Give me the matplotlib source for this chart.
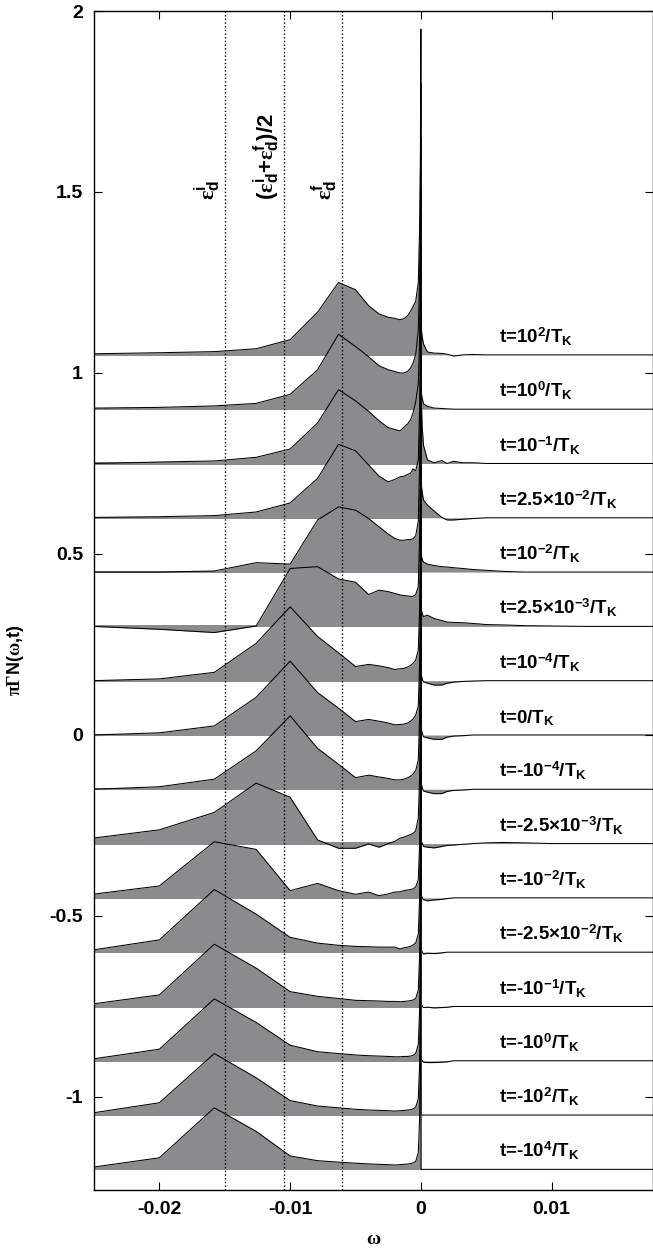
import matplotlib
matplotlib.use("Agg")
import matplotlib.pyplot as plt
import numpy as np

plt.rcParams["font.family"] = ["Liberation Sans", "DejaVu Sans"]
plt.rcParams["font.weight"] = "bold"
plt.rcParams["axes.unicode_minus"] = False
plt.rcParams["mathtext.fontset"] = "custom"
plt.rcParams["mathtext.rm"] = "Liberation Serif"
plt.rcParams["mathtext.it"] = "Liberation Serif:italic"
plt.rcParams["mathtext.bf"] = "Liberation Sans:bold"
plt.rcParams["mathtext.sf"] = "Liberation Sans"

# frequency grid (log spaced towards the Fermi level)
omega = [-0.0251, -0.0200, -0.0158, -0.0126, -0.0100, -0.0079, -0.0063, -0.0050,
         -0.0040, -0.0032, -0.0025, -0.0020, -0.0016, -0.0013, -0.0010, -0.0008,
         -0.0006, -0.0004, -0.0002, -0.0001,
         -0.00004, 0.0, 0.00001,
         0.0001, 0.0002, 0.0005, 0.0010, 0.0016, 0.0020, 0.0025, 0.0032,
         0.0040, 0.0050, 0.0063, 0.0079, 0.0100, 0.0126, 0.0158, 0.0178]

# spectral functions relative to their offset:
# 20 points below the peak, 3 points around omega=0, 16 points above
n_p1e2 = [0.003, 0.006, 0.009, 0.017, 0.042, 0.118, 0.200, 0.180, 0.136, 0.113,
          0.104, 0.101, 0.097, 0.100, 0.109, 0.120, 0.134, 0.148, 0.200, 0.350,
          0.550, 0.900, 0.080,
          0.050, 0.030, 0.008, 0.005, 0.004, 0.002, -0.003, 0.000,
          0.001, 0, 0, 0, 0, 0, 0, 0]
n_p1e0 = [0.003, 0.005, 0.009, 0.016, 0.041, 0.109, 0.207, 0.173, 0.145, 0.120,
          0.109, 0.104, 0.100, 0.100, 0.105, 0.113, 0.127, 0.150, 0.220, 0.360,
          0.550, 0.900, 0.050,
          0.030, 0.015, 0.008, 0.003, 0.002, 0.001, 0, 0,
          0, 0, 0, 0, 0, 0, 0, 0]
n_p1em1 = [0.000, 0.004, 0.007, 0.017, 0.040, 0.112, 0.204, 0.173, 0.144, 0.118,
           0.099, 0.094, 0.090, 0.100, 0.110, 0.120, 0.140, 0.170, 0.220, 0.350,
           0.550, 0.900, 0.200,
           0.100, 0.050, 0.010, 0.002, 0.008, 0.000, 0.006, 0.002,
           0.002, 0, 0, 0, 0, 0, 0, 0]
n_p25em2 = [0.001, 0.003, 0.006, 0.016, 0.041, 0.109, 0.203, 0.185, 0.146, 0.115,
            0.099, 0.106, 0.113, 0.115, 0.120, 0.123, 0.135, 0.130, 0.160, 0.300,
            0.500, 0.900, 0.100,
            0.070, 0.049, 0.035, 0.019, 0.001, -0.006, -0.006, -0.004,
            -0.002, 0, 0, 0, 0, 0, 0, 0]
n_p1em2 = [0.000, 0.000, 0.003, 0.026, 0.022, 0.144, 0.180, 0.171, 0.148, 0.125,
           0.105, 0.093, 0.088, 0.088, 0.090, 0.090, 0.092, 0.100, 0.140, 0.300,
           0.500, 0.900, 0.050,
           0.035, 0.028, 0.022, 0.018, 0.015, 0.014, 0.012, 0.010,
           0.007, 0.005, 0.002, 0, 0, 0, 0, 0]
n_p25em3 = [0.000, -0.008, -0.017, 0.001, 0.160, 0.165, 0.131, 0.122, 0.088, 0.100,
            0.096, 0.091, 0.087, 0.085, 0.084, 0.083, 0.083, 0.088, 0.110, 0.250,
            0.450, 0.900, 0.050,
            0.035, 0.027, 0.031, 0.022, 0.016, 0.012, 0.011, 0.010,
            0.008, 0.005, 0.004, 0.002, 0.001, 0, 0, 0]
n_p1em4 = [0.000, 0.005, 0.023, 0.103, 0.204, 0.122, 0.077, 0.039, 0.045, 0.041,
           0.036, 0.031, 0.033, 0.034, 0.038, 0.042, 0.048, 0.057, 0.085, 0.200,
           0.400, 0.900, 0.020,
           0.005, -0.003, -0.007, -0.012, -0.012, -0.007, -0.004, -0.002,
           -0.001, 0, 0, 0, 0, 0, 0, 0]
n_zero = [0.000, 0.006, 0.025, 0.104, 0.204, 0.117, 0.074, 0.037, 0.043, 0.038,
          0.033, 0.028, 0.029, 0.030, 0.033, 0.038, 0.044, 0.055, 0.080, 0.200,
          0.400, 0.900, 0.020,
          0.005, -0.005, -0.008, -0.012, -0.012, -0.006, -0.003, -0.002,
          0, 0, 0, 0, 0, 0, 0, 0]
n_m1em4 = [0.000, 0.007, 0.028, 0.106, 0.203, 0.113, 0.069, 0.032, 0.039, 0.034,
           0.030, 0.026, 0.026, 0.028, 0.032, 0.036, 0.042, 0.052, 0.080, 0.200,
           0.400, 0.900, 0.020,
           0.005, -0.005, -0.008, -0.012, -0.012, -0.006, -0.003, -0.002,
           0, 0, 0, 0, 0, 0, 0, 0]
n_m25em3 = [0.015, 0.038, 0.086, 0.167, 0.128, 0.010, -0.013, -0.013, -0.001, -0.010,
            0.000, 0.006, 0.015, 0.018, 0.022, 0.025, 0.028, 0.035, 0.070, 0.180,
            0.380, 0.900, 0.010,
            0.000, -0.008, -0.010, -0.012, -0.008, -0.005, -0.004, -0.002,
            0.000, 0.002, 0.003, 0.002, 0, 0, 0, 0]
n_m1em2 = [0.010, 0.033, 0.155, 0.134, 0.020, 0.040, 0.020, 0.010, 0.016, 0.006,
           0.011, 0.016, 0.017, 0.020, 0.022, 0.023, 0.025, 0.030, 0.050, 0.150,
           0.350, 0.900, 0.010,
           0.000, -0.005, -0.008, -0.006, -0.004, -0.002, 0, 0,
           0, 0, 0, 0, 0, 0, 0, 0]
n_m25em2 = [0.006, 0.034, 0.173, 0.105, 0.041, 0.025, 0.019, 0.016, 0.015, 0.014,
            0.014, 0.014, 0.009, 0.012, 0.014, 0.016, 0.020, 0.025, 0.050, 0.150,
            0.350, 0.900, 0.010,
            0.000, -0.005, -0.003, -0.004, -0.002, 0, 0, 0,
            0, 0, 0, 0, 0, 0, 0, 0]
n_m1em1 = [0.007, 0.032, 0.172, 0.106, 0.041, 0.028, 0.022, 0.017, 0.016, 0.015,
           0.014, 0.014, 0.013, 0.014, 0.015, 0.016, 0.018, 0.022, 0.045, 0.140,
           0.330, 0.900, 0.010,
           0.000, -0.003, -0.002, -0.004, -0.003, -0.002, 0, 0,
           0, 0, 0, 0, 0, 0, 0, 0]
n_m1e0 = [0.005, 0.032, 0.171, 0.106, 0.043, 0.025, 0.020, 0.016, 0.014, 0.013,
          0.012, 0.011, 0.011, 0.012, 0.012, 0.013, 0.015, 0.020, 0.045, 0.140,
          0.330, 0.900, 0.005,
          0.000, -0.004, -0.005, -0.005, -0.004, -0.003, 0, 0,
          0, 0, 0, 0, 0, 0, 0, 0]
n_m1e2 = [0.006, 0.034, 0.170, 0.103, 0.040, 0.025, 0.020, 0.016, 0.014, 0.013,
          0.012, 0.011, 0.012, 0.013, 0.014, 0.015, 0.017, 0.022, 0.045, 0.140,
          0.330, 0.900, 0.002,
          0, 0, 0, 0, 0, 0, 0, 0,
          0, 0, 0, 0, 0, 0, 0, 0]
n_m1e4 = [0.006, 0.032, 0.170, 0.105, 0.037, 0.024, 0.020, 0.017, 0.015, 0.014,
          0.013, 0.012, 0.013, 0.014, 0.015, 0.016, 0.018, 0.022, 0.045, 0.140,
          0.330, 0.900, 0.000,
          0, 0, 0, 0, 0, 0, 0, 0,
          0, 0, 0, 0, 0, 0, 0, 0]

curves = [n_p1e2, n_p1e0, n_p1em1, n_p25em2, n_p1em2, n_p25em3, n_p1em4, n_zero,
          n_m1em4, n_m25em3, n_m1em2, n_m25em2, n_m1em1, n_m1e0, n_m1e2, n_m1e4]
offsets = [1.05, 0.90, 0.75, 0.60, 0.45, 0.30, 0.15, 0.0,
           -0.15, -0.30, -0.45, -0.60, -0.75, -0.90, -1.05, -1.20]
labels = [
    r"t=10$^{\mathbf{2}}$/T$_{\mathbf{K}}$",
    r"t=10$^{\mathbf{0}}$/T$_{\mathbf{K}}$",
    r"t=10$^{\mathbf{-1}}$/T$_{\mathbf{K}}$",
    r"t=2.5×10$^{\mathbf{-2}}$/T$_{\mathbf{K}}$",
    r"t=10$^{\mathbf{-2}}$/T$_{\mathbf{K}}$",
    r"t=2.5×10$^{\mathbf{-3}}$/T$_{\mathbf{K}}$",
    r"t=10$^{\mathbf{-4}}$/T$_{\mathbf{K}}$",
    r"t=0/T$_{\mathbf{K}}$",
    r"t=-10$^{\mathbf{-4}}$/T$_{\mathbf{K}}$",
    r"t=-2.5×10$^{\mathbf{-3}}$/T$_{\mathbf{K}}$",
    r"t=-10$^{\mathbf{-2}}$/T$_{\mathbf{K}}$",
    r"t=-2.5×10$^{\mathbf{-2}}$/T$_{\mathbf{K}}$",
    r"t=-10$^{\mathbf{-1}}$/T$_{\mathbf{K}}$",
    r"t=-10$^{\mathbf{0}}$/T$_{\mathbf{K}}$",
    r"t=-10$^{\mathbf{2}}$/T$_{\mathbf{K}}$",
    r"t=-10$^{\mathbf{4}}$/T$_{\mathbf{K}}$",
]

# level positions
eps_lines = [-0.0150, -0.0105, -0.0060]
eps_labels = [
    r"$\mathrm{\varepsilon}^{\mathbf{i}}_{\mathbf{d}}$",
    r"($\mathrm{\varepsilon}^{\mathbf{i}}_{\mathbf{d}}$+$\mathrm{\varepsilon}^{\mathbf{f}}_{\mathbf{d}}$)/2",
    r"$\mathrm{\varepsilon}^{\mathbf{f}}_{\mathbf{d}}$",
]

xticks = [-0.02, -0.01, 0, 0.01]
xticklabels = ["-0.02", "-0.01", "0", "0.01"]
yticks = [-1, -0.5, 0, 0.5, 1, 1.5, 2]
yticklabels = ["-1", "-0.5", "0", "0.5", "1", "1.5", "2"]

fig = plt.figure(figsize=(6.53, 12.5), dpi=100)
ax = fig.add_axes([94 / 653, 60 / 1250, 559 / 653, 1179 / 1250])

w = np.array(omega)
neg = w <= 0
gray = "#8b8b8d"
for k, (vals, base) in enumerate(zip(curves, offsets)):
    y = base + np.array(vals)
    z = 2 + k
    ax.fill_between(w, base, y, color=gray, lw=0, zorder=z)
    ax.fill_between(w[neg], base - 0.003, base + 0.003, color=gray, lw=0, zorder=z)
    ax.plot(w, y, color="black", lw=0.75, zorder=z + 0.5)
    ax.text(0.0060, base + 0.032, labels[k], fontsize=13.5, fontweight="bold",
            ha="left", va="baseline", zorder=30)

for xe, lab in zip(eps_lines, eps_labels):
    ax.axvline(xe, color="black", ls=":", lw=1.0, zorder=40)
    ax.text(xe - 0.00015, 1.478, lab, rotation=90, fontsize=16, fontweight="bold",
            ha="right", va="bottom", zorder=40)

ax.set_xlim(-0.025, 0.01775)
ax.set_ylim(-1.257, 2.0)
ax.set_xticks(xticks)
ax.set_xticklabels(xticklabels)
ax.set_yticks(yticks)
ax.set_yticklabels(yticklabels)
ax.tick_params(direction="in", length=6, width=0.8, top=True, right=True,
               labelsize=14, pad=8)
for s in ax.spines.values():
    s.set_linewidth(1.0)
    s.set_zorder(50)

ax.set_xlabel(r"$\mathrm{\omega}$", fontsize=14, labelpad=9)
fig.text(16 / 653, 1 - 660 / 1250, r"$\mathrm{\pi\Gamma}$N($\mathrm{\omega}$,t)",
         rotation=90, fontsize=13, fontweight="bold", ha="center", va="center")

fig.savefig("out.png", dpi=100)
